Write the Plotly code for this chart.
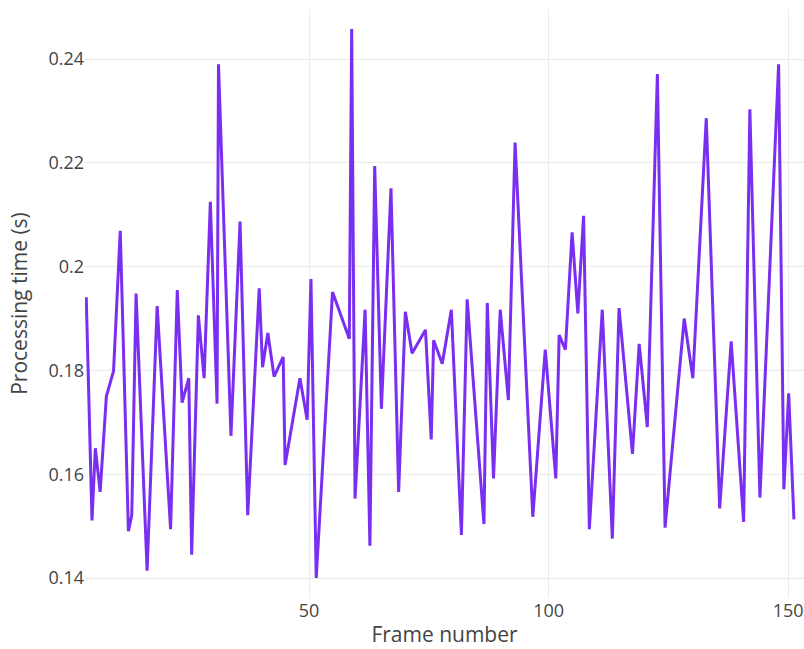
import plotly.graph_objects as go

frame_number = [
    3.5, 4.7, 5.4, 6.4, 7.7, 9.2, 10.6, 12.3, 13.0, 13.9, 16.2, 18.3, 21.1, 22.5, 23.5, 24.9,
    25.5, 26.9, 28.1, 29.4, 30.8, 31.1, 33.7, 35.6, 37.2, 39.6, 40.3, 41.4, 42.7, 44.6, 45.0,
    48.1, 49.6, 50.4, 51.5, 54.9, 58.4, 58.9, 59.6, 61.7, 62.7, 63.7, 65.1, 67.1,
    68.7, 70.1, 71.5, 74.3, 75.5, 76.0, 77.8, 79.7, 81.8, 83.0, 86.5, 87.2,
    88.5, 89.9, 91.6, 93.0, 96.7, 99.3, 101.5, 102.2, 103.5, 104.9, 106.1, 107.3, 108.5,
    111.2, 113.3, 114.7, 117.5, 118.9, 120.6, 122.7, 124.3, 128.3, 130.1,
    132.9, 135.7, 138.1, 140.7, 142.0, 144.1, 148.0, 149.1, 150.1, 151.2,
]

processing_time = [
    0.1941, 0.1511, 0.1650, 0.1566, 0.1750, 0.1799, 0.2069, 0.1490, 0.1521, 0.1948, 0.1414, 0.1924, 0.1494, 0.1955, 0.1738, 0.1785,
    0.1445, 0.1906, 0.1785, 0.2125, 0.1736, 0.2390, 0.1674, 0.2087, 0.1521, 0.1958, 0.1806, 0.1872, 0.1788, 0.1826, 0.1618,
    0.1785, 0.1705, 0.1976, 0.1400, 0.1951, 0.1861, 0.2458, 0.1553, 0.1917, 0.1462, 0.2194, 0.1726, 0.2151,
    0.1566, 0.1913, 0.1833, 0.1878, 0.1667, 0.1858, 0.1813, 0.1917, 0.1483, 0.1937, 0.1504, 0.1930,
    0.1592, 0.1917, 0.1743, 0.2239, 0.1518, 0.1840, 0.1592, 0.1868, 0.1840, 0.2066, 0.1910, 0.2098, 0.1494,
    0.1917, 0.1476, 0.1920, 0.1639, 0.1851, 0.1691, 0.2371, 0.1497, 0.1900, 0.1785,
    0.2286, 0.1534, 0.1856, 0.1508, 0.2303, 0.1555, 0.2390, 0.1571, 0.1756, 0.1513,
]

y_ticks = [0.14, 0.16, 0.18, 0.2, 0.22, 0.24]
x_ticks = [50, 100, 150]

fig = go.Figure(
    go.Scatter(
        x=frame_number,
        y=processing_time,
        mode="lines",
        line=dict(color="#7a2ff0", width=3),
    )
)

fig.update_layout(
    width=804,
    height=649,
    margin=dict(l=85, r=0, t=9, b=51),
    paper_bgcolor="white",
    plot_bgcolor="white",
    font=dict(family="Open Sans", size=18, color="#444"),
    showlegend=False,
)
fig.update_xaxes(
    range=[3.24, 153.3],
    tickvals=x_ticks,
    title=dict(text="Frame number", font=dict(size=21), standoff=6),
    showgrid=True,
    gridcolor="#ebebeb",
    gridwidth=1,
    zeroline=False,
    showline=False,
    ticks="",
)
fig.update_yaxes(
    range=[0.13615, 0.24964],
    tickvals=y_ticks,
    title=dict(text="Processing time (s)", font=dict(size=21)),
    showgrid=True,
    gridcolor="#ebebeb",
    gridwidth=1,
    zeroline=False,
    showline=False,
    ticks="",
)

fig.write_html(
    "out.html",
    config={"displayModeBar": False},
    post_script="document.body.style.margin='0';document.body.style.overflow='hidden';",
)
